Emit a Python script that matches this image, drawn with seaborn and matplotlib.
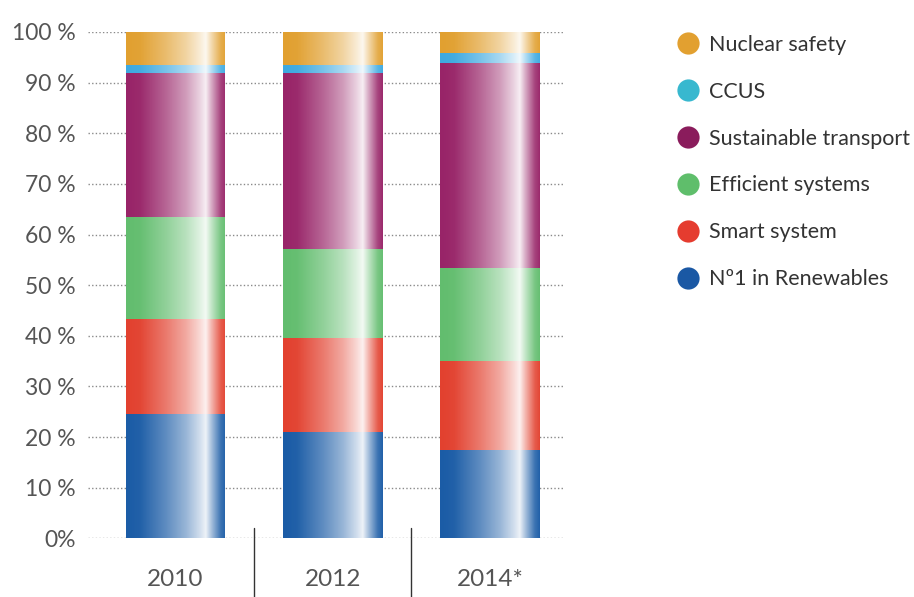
import numpy as np
import pandas as pd
import matplotlib
matplotlib.use('Agg')
import matplotlib.pyplot as plt
from matplotlib.lines import Line2D
import seaborn as sns

# data (shares in %, bottom to top)
years = ['2010', '2012', '2014*']
categories = ['Nº1 in Renewables', 'Smart system', 'Efficient systems',
              'Sustainable transport', 'CCUS', 'Nuclear safety']
renewables = [24.6, 21.0, 17.4]
smart = [18.7, 18.6, 17.6]
efficient = [20.2, 17.5, 18.4]
transport = [28.5, 34.9, 40.5]
ccus = [1.5, 1.5, 2.0]
nuclear = [6.5, 6.5, 4.1]
ytick_labels = ['0%', '10 %', '20 %', '30 %', '40 %', '50 %',
                '60 %', '70 %', '80 %', '90 %', '100 %']

bar_colors = ['#1B5CA6', '#E2412F', '#62BD6E', '#982468', '#3EA9E0', '#E1A030']
legend_colors = ['#1A58A4', '#E53C2F', '#5FBE6B', '#8A1C5C', '#38B8CF', '#E2A030']

df = pd.DataFrame({'year': years, categories[0]: renewables, categories[1]: smart,
                   categories[2]: efficient, categories[3]: transport,
                   categories[4]: ccus, categories[5]: nuclear})
cum = df[categories].cumsum(axis=1)
cum['year'] = df['year']

sns.set_style('white')
plt.rcParams['font.family'] = ['Lato', 'DejaVu Sans']

fig = plt.figure(figsize=(9.14, 5.97), dpi=100)
ax = fig.add_axes([88 / 914, 58.7 / 597, 477 / 914, 506.3 / 597])

# stacked bars: draw cumulative totals from the top layer down
for cat, col in reversed(list(zip(categories, bar_colors))):
    sns.barplot(data=cum, x='year', y=cat, color=col, width=0.635,
                saturation=1, ax=ax, zorder=2, edgecolor='none')

# glossy highlight across every bar
t = np.linspace(0, 1, 200)
alpha = np.interp(t, [0, 0.14, 0.4, 0.6, 0.74, 0.80, 0.86, 0.95, 1.0],
                  [0, 0.03, 0.3, 0.55, 0.8, 0.93, 0.6, 0.15, 0.03])
grad = np.ones((1, len(t), 4))
grad[0, :, 3] = alpha
for i in range(len(years)):
    ax.imshow(grad, extent=[i - 0.3175, i + 0.3175, 0, cum[categories[-1]].iloc[i]],
              aspect='auto', interpolation='bilinear', zorder=3)

ax.set_xlim(-0.556, 2.476)
ax.set_ylim(0, 100)
ax.set_yticks(range(0, 101, 10))
ax.set_yticklabels(ytick_labels)
ax.yaxis.grid(True, color='#8a8a8a', linestyle=(0, (1, 1.6)), linewidth=1)
ax.set_axisbelow(True)
for s in ax.spines.values():
    s.set_visible(False)
ax.set_xlabel('')
ax.set_ylabel('')
ax.tick_params(axis='y', length=0, pad=9, labelsize=16.5, labelcolor='#555555')
ax.tick_params(axis='x', length=0, pad=22, labelsize=17.5, labelcolor='#555555')

# separators between the years below the axis
for xs in [0.5, 1.5]:
    ax.plot([xs, xs], [2.0, -11.7], color='#333333', linewidth=1, clip_on=False)

handles = [Line2D([], [], marker='o', linestyle='none', markersize=16,
                  markerfacecolor=c, markeredgecolor='none')
           for c in reversed(legend_colors)]
ax.legend(handles, list(reversed(categories)), loc='upper left',
          bbox_to_anchor=(664 / 914, 1 - 24 / 597), bbox_transform=fig.transFigure,
          frameon=False, fontsize=15.5, labelcolor='#333333', labelspacing=1.25,
          handletextpad=0.4, borderpad=0, handlelength=1.2)

fig.savefig('out.png', dpi=100)
